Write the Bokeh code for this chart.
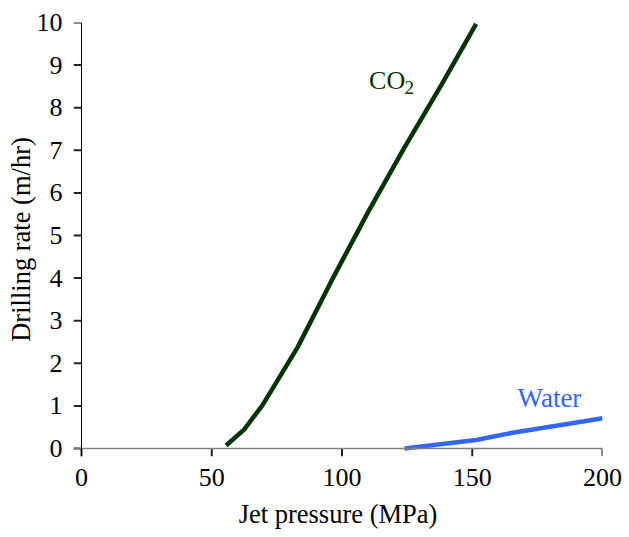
from bokeh.plotting import figure
from bokeh.models import Range1d, FixedTicker, Span
from bokeh.core.properties import value
from bokeh.embed import file_html
from bokeh.resources import INLINE

# Data
co2_pressure = [55.5, 62.5, 69.5, 83, 96, 110, 124, 138, 151.5]
co2_rate = [0.07, 0.45, 1.02, 2.38, 3.94, 5.55, 7.07, 8.52, 9.97]
water_pressure = [124, 151.5, 165.5, 193, 200]
water_rate = [0.0, 0.2, 0.37, 0.64, 0.71]
x_ticks = [0, 50, 100, 150, 200]
y_ticks = [0, 1, 2, 3, 4, 5, 6, 7, 8, 9, 10]

FONT = "Liberation Serif"
X0, X1, Y0, Y1 = 0, 200, 0, 10
PLOT_W, PLOT_H = 521, 426   # pixel size of the data area
TICK_PX = 8
dx = TICK_PX * (X1 - X0) / PLOT_W
dy = TICK_PX * (Y1 - Y0) / PLOT_H

# the frame is extended by the tick length so that the outside ticks can be drawn as glyphs
p = figure(width=629, height=537, output_backend="svg", toolbar_location=None,
           x_range=Range1d(X0 - dx, X1), y_range=Range1d(Y0 - dy, Y1),
           min_border_left=73, min_border_right=27, min_border_top=22, min_border_bottom=81)
p.outline_line_color = None
p.xgrid.visible = False
p.ygrid.visible = False
p.background_fill_color = "white"

# axis lines and tick marks
p.add_layout(Span(location=Y0, dimension="width", line_color="#808080", line_width=1.5))
p.add_layout(Span(location=X0, dimension="height", line_color="black", line_width=1))
p.segment(x0=x_ticks, y0=[Y0] * len(x_ticks), x1=x_ticks, y1=[Y0 - dy] * len(x_ticks),
          line_color="#222222", line_width=2)
p.segment(x0=[X0] * len(y_ticks), y0=y_ticks, x1=[X0 - dx] * len(y_ticks), y1=y_ticks,
          line_color="#222222", line_width=2)

p.line(co2_pressure, co2_rate, line_color="#003300", line_width=4.5)
p.line(water_pressure, water_rate, line_color="#3366ff", line_width=4.5)

p.text(x=[110.4], y=[8.64], text=["CO"], text_font=value(FONT), text_font_size="26px",
       text_color="#003300", text_baseline="alphabetic", text_align="left")
p.text(x=[124.0], y=[8.47], text=["2"], text_font=value(FONT), text_font_size="19px",
       text_color="#003300", text_baseline="alphabetic", text_align="left")
p.text(x=[167.4], y=[1.19], text=["Water"], text_font=value(FONT), text_font_size="27px",
       text_color="#3366ff", text_baseline="alphabetic", text_align="left")

for ax in (p.xaxis[0], p.yaxis[0]):
    ax.minor_tick_line_color = None
    ax.major_tick_line_color = None
    ax.axis_line_color = None
    ax.major_tick_in = 0
    ax.major_tick_out = 0
    ax.major_label_text_font = FONT
    ax.major_label_text_font_size = "26px"
    ax.major_label_text_color = "black"
    ax.axis_label_text_font = FONT
    ax.axis_label_text_font_size = "26.5px"
    ax.axis_label_text_font_style = "normal"
    ax.axis_label_text_color = "black"

p.xaxis.ticker = FixedTicker(ticks=x_ticks, minor_ticks=[])
p.yaxis.ticker = FixedTicker(ticks=y_ticks, minor_ticks=[])
p.xaxis.axis_label = "Jet pressure (MPa)"
p.yaxis.axis_label = "Drilling rate (m/hr)"
p.xaxis.major_label_standoff = 12
p.xaxis.axis_label_standoff = 10
p.yaxis.major_label_standoff = 11
p.yaxis.axis_label_standoff = -2

open("out.html", "w").write(file_html(p, INLINE))
